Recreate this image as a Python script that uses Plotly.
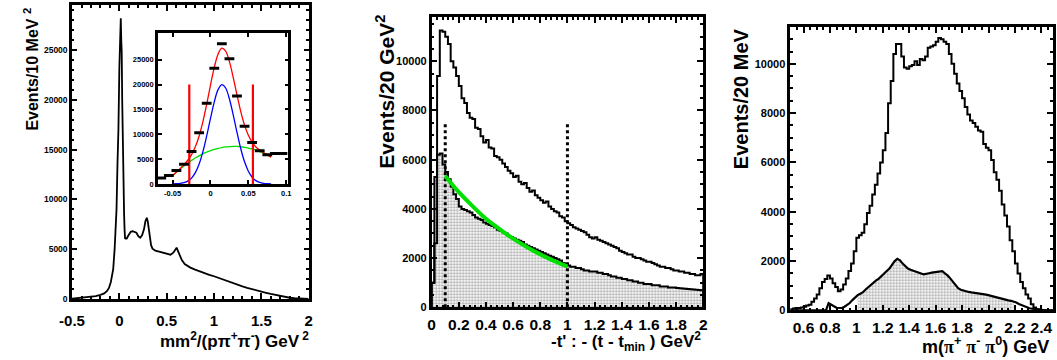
import plotly.graph_objects as go

W, H = 1057, 360
FONT = "Liberation Sans"

# ---------------- Panel 1: missing mass squared ----------------
mm2_x = [-0.5, -0.45, -0.4, -0.35, -0.3, -0.25, -0.2, -0.16, -0.13, -0.11, -0.09, -0.075, -0.065,
         -0.05, -0.04, -0.03, -0.02, -0.01, 0.0, 0.01, 0.015, 0.02, 0.025, 0.03, 0.035, 0.04, 0.045,
         0.05, 0.055, 0.06, 0.07, 0.08, 0.09, 0.1, 0.12, 0.14, 0.16, 0.18, 0.2, 0.22, 0.24, 0.26,
         0.275, 0.29, 0.3, 0.31, 0.32, 0.335, 0.35, 0.38, 0.42, 0.46, 0.5, 0.54, 0.57, 0.59, 0.605,
         0.62, 0.64, 0.66, 0.69, 0.72, 0.75, 0.8, 0.85, 0.9, 0.95, 1.0, 1.05, 1.1, 1.15, 1.2, 1.25,
         1.3, 1.35, 1.4, 1.45, 1.5, 1.55, 1.6, 1.65, 1.7, 1.75, 1.8, 1.85, 1.9, 1.95, 2.0]
mm2_y = [20, 60, 100, 150, 200, 280, 400, 550, 800, 1100, 1700, 2400, 3000,
         5000, 6500, 9000, 13500, 17000, 23300, 25500, 28200, 26000, 24800, 20000, 16000, 12000, 10000,
         8500, 7000, 6100, 6050, 6100, 6300, 6500, 6750, 6800, 6750, 6650, 6300, 6150, 6400, 7000,
         7800, 8150, 7800, 7000, 6000, 5400, 5050, 4850, 4750, 4650, 4550, 4450, 4650, 5000, 5150,
         4800, 4300, 3900, 3500, 3300, 3150, 2950, 2750, 2600, 2420, 2280, 2100, 1920, 1750, 1580, 1420,
         1260, 1120, 980, 860, 740, 620, 500, 390, 280, 190, 120, 70, 35, 15, 5]
mm2_tickvals = [-0.5, 0, 0.5, 1, 1.5, 2]
mm2_ticktext = ["-0.5", "0", "0.5", "1", "1.5", "2"]

# inset: binned data (bin centres) and fitted curves
inset_bin_x = [-0.065, -0.055, -0.045, -0.035, -0.025, -0.015, -0.005, 0.005, 0.015, 0.025,
               0.035, 0.045, 0.055, 0.065, 0.075, 0.085, 0.095]
inset_bin_y = [1200, 1700, 2700, 3950, 6500, 10300, 16250, 23300, 28200, 25200,
               17700, 11600, 8350, 6650, 5850, 6100, 6100]
fit_x = [-0.05, -0.045, -0.04, -0.035, -0.03, -0.025, -0.02, -0.015, -0.01, -0.005, 0.0,
         0.005, 0.01, 0.015, 0.02, 0.025, 0.03, 0.035, 0.04, 0.045, 0.05, 0.055, 0.06,
         0.065, 0.07, 0.075, 0.08]
fit_total = [1660, 2390, 3110, 3870, 4760, 5900, 7470, 9650, 12530, 16050, 19880,
             23460, 26130, 27320, 26750, 24620, 21450, 17900, 14560, 11810, 9780, 8370, 7440,
             6800, 6300, 5850, 5400]
fit_signal = [12, 36, 97, 242, 557, 1171, 2260, 4000, 6490, 9670, 13190,
              16520, 18980, 20000, 19310, 17100, 13900, 10360, 7080, 4440, 2550, 1340, 650,
              290, 117, 44, 15]
fit_background = [1645, 2352, 3013, 3630, 4201, 4728, 5209, 5646, 6037, 6384, 6685,
                  6942, 7153, 7320, 7441, 7518, 7549, 7536, 7477, 7374, 7225, 7032, 6793,
                  6510, 6181, 5808, 5389]
cut_lines_x = [-0.028, 0.056]
cut_lines_top = 20000
inset_tickvals = [-0.05, 0, 0.05, 0.1]
inset_ticktext = ["-0.05", "0", "0.05", "0.1"]
inset_ytickvals = [0, 5000, 10000, 15000, 20000, 25000]

# ---------------- Panel 2: -t' ----------------
t_lo, t_bw = 0.0, 0.02
t_all = [1000, 2600, 9400, 11250, 11200, 11000, 10700, 10000, 9750, 9400,
         9000, 8500, 8300, 7900, 7700, 7650, 7300, 7250, 6950, 6700,
         6800, 6500, 6450, 6150, 6100, 6000, 5850, 5700, 5550, 5450,
         5300, 5350, 5100, 5000, 5050, 4850, 4700, 4750, 4550, 4450,
         4350, 4250, 4300, 4100, 4000, 3900, 3850, 3700, 3650, 3500,
         3420, 3350, 3250, 3200, 3150, 3100, 3050, 2950, 2850, 2800,
         2850, 2750, 2700, 2650, 2600, 2550, 2500, 2450, 2400, 2300,
         2250, 2200, 2150, 2150, 2050, 2000, 2000, 1950, 1900, 1850,
         1850, 1800, 1750, 1700, 1650, 1650, 1600, 1600, 1550, 1500,
         1500, 1450, 1450, 1400, 1400, 1350, 1350, 1300, 1300, 1350]
t_sel = [1000, 5300, 6200, 6250, 5800, 5500, 5200, 4900, 4600, 4400,
         4100, 4000, 3950, 3900, 3850, 3750, 3650, 3600, 3550, 3450,
         3400, 3350, 3300, 3250, 3150, 3100, 3050, 3000, 2900, 2850,
         2800, 2750, 2700, 2650, 2550, 2500, 2450, 2400, 2350, 2300,
         2250, 2200, 2150, 2100, 2050, 2000, 1950, 1900, 1800, 1750,
         1700, 1650, 1650, 1600, 1600, 1550, 1500, 1500, 1450, 1450,
         1450, 1400, 1400, 1350, 1350, 1300, 1250, 1250, 1200, 1200,
         1150, 1150, 1100, 1100, 1050, 1050, 1000, 1000, 950, 950,
         950, 900, 900, 900, 850, 850, 850, 800, 800, 800,
         780, 770, 760, 750, 740, 730, 720, 710, 700, 690]
t_fit_x = [0.1, 0.2, 0.3, 0.4, 0.5, 0.6, 0.7, 0.8, 0.9, 1.0]
t_fit_y = [5340, 4680, 4120, 3600, 3180, 2790, 2450, 2150, 1890, 1660]
t_cuts = [0.1, 1.0]
t_cut_top = 7500

# ---------------- Panel 3: m(pi+ pi- pi0) ----------------
m_lo, m_bw = 0.5, 0.02
m_all = [50, 80, 100, 100, 120, 150, 200, 230, 350, 480,
         650, 900, 1150, 1280, 1420, 1300, 1100, 950, 780, 850,
         1050, 1300, 1600, 1900, 2400, 2950, 3050, 3150, 3500, 3950,
         4250, 4700, 5100, 5550, 6000, 6500, 7200, 8400, 9300, 10400,
         10800, 10800, 10300, 9850, 9800, 9900, 9950, 10100, 9950, 10200,
         10150, 10300, 10650, 10700, 10750, 10900, 11050, 11000, 10900, 10800,
         10400, 10000, 9600, 9200, 8900, 8600, 8250, 7950, 7700, 7600,
         7450, 7300, 7250, 6750, 6600, 6500, 6100, 5600, 5300, 4850,
         4300, 3850, 3400, 2850, 2400, 1900, 1500, 1150, 900, 650,
         480, 250, 120, 50, 20, 10, 0, 0, 0, 0]
m_sel = [0, 0, 0, 0, 0, 0, 0, 0, 0, 0,
         0, 0, 0, 0, 300, 250, 170, 110, 90, 100,
         150, 220, 300, 420, 530, 620, 680, 740, 850, 950,
         1050, 1150, 1220, 1290, 1380, 1500, 1600, 1700, 1850, 2000,
         2090, 2030, 1900, 1780, 1700, 1650, 1620, 1580, 1550, 1500,
         1460, 1470, 1510, 1530, 1550, 1560, 1580, 1590, 1500, 1420,
         1300, 1150, 1000, 900, 840, 800, 770, 750, 730, 720,
         700, 690, 670, 650, 630, 600, 570, 530, 500, 480,
         450, 430, 410, 390, 360, 320, 260, 210, 160, 120,
         90, 70, 50, 30, 15, 0, 0, 0, 0, 0]
m_shade_range = [1.0, 2.2]


def steps(lo, bw, vals):
    xs, ys = [lo], [0]
    for i, v in enumerate(vals):
        xs.append(lo + i * bw)
        ys.append(v)
    xs.append(lo + len(vals) * bw)
    ys.append(vals[-1])
    xs.append(lo + len(vals) * bw)
    ys.append(0)
    return xs, ys


def px(x):
    return x / W


def py(y):
    return 1 - y / H


fig = go.Figure()
BLK = "black"
PATTERN = dict(shape=".", fgcolor="#555555", bgcolor="white", size=3, solidity=0.45)

# Panel 1 main
fig.add_trace(go.Scatter(x=mm2_x, y=mm2_y, mode="lines", line=dict(color=BLK, width=1.8),
                         xaxis="x", yaxis="y", showlegend=False))

# inset
fig.add_trace(go.Scatter(x=fit_x, y=fit_background, mode="lines", line=dict(color="#00e000", width=1.3, shape="spline"),
                         xaxis="x4", yaxis="y4", showlegend=False))
fig.add_trace(go.Scatter(x=fit_x, y=fit_signal, mode="lines", line=dict(color="#0000ff", width=1.3, shape="spline"),
                         xaxis="x4", yaxis="y4", showlegend=False))
fig.add_trace(go.Scatter(x=fit_x, y=fit_total, mode="lines", line=dict(color="#ff0000", width=1.3, shape="spline"),
                         xaxis="x4", yaxis="y4", showlegend=False))
for cx in cut_lines_x:
    fig.add_trace(go.Scatter(x=[cx, cx], y=[0, cut_lines_top], mode="lines", line=dict(color="#ff0000", width=2.2),
                             xaxis="x4", yaxis="y4", showlegend=False))
fig.add_trace(go.Scatter(x=inset_bin_x, y=inset_bin_y, mode="markers",
                         marker=dict(symbol="line-ew", size=7, line=dict(width=3, color=BLK)),
                         xaxis="x4", yaxis="y4", showlegend=False))

# Panel 2
sx, sy = steps(t_lo, t_bw, t_sel)
fig.add_trace(go.Scatter(x=sx, y=sy, mode="lines", line=dict(color=BLK, width=2, shape="hv"),
                         fill="tozeroy", fillcolor="rgba(0,0,0,0)", fillpattern=PATTERN,
                         xaxis="x2", yaxis="y2", showlegend=False))
ax_, ay_ = steps(t_lo, t_bw, t_all)
fig.add_trace(go.Scatter(x=ax_, y=ay_, mode="lines", line=dict(color=BLK, width=2, shape="hv"),
                         xaxis="x2", yaxis="y2", showlegend=False))
for cx in t_cuts:
    fig.add_trace(go.Scatter(x=[cx, cx], y=[0, t_cut_top], mode="lines", line=dict(color=BLK, width=3, dash="dot"),
                             xaxis="x2", yaxis="y2", showlegend=False))
fig.add_trace(go.Scatter(x=t_fit_x, y=t_fit_y, mode="lines", line=dict(color="#00e000", width=4, shape="spline"),
                         xaxis="x2", yaxis="y2", showlegend=False))

# Panel 3
m_centres = [m_lo + (i + 0.5) * m_bw for i in range(len(m_sel))]
shade_x = [c for c in m_centres if m_shade_range[0] <= c <= m_shade_range[1]]
shade_y = [v for c, v in zip(m_centres, m_sel) if m_shade_range[0] <= c <= m_shade_range[1]]
fig.add_trace(go.Scatter(x=shade_x, y=shade_y, mode="lines", line=dict(width=0, color="rgba(0,0,0,0)"),
                         fill="tozeroy", fillcolor="rgba(0,0,0,0)", fillpattern=PATTERN,
                         xaxis="x3", yaxis="y3", showlegend=False))
fig.add_trace(go.Scatter(x=m_centres, y=m_sel, mode="lines", line=dict(color=BLK, width=2.2),
                         xaxis="x3", yaxis="y3", showlegend=False))
mx, my = steps(m_lo, m_bw, m_all)
fig.add_trace(go.Scatter(x=mx, y=my, mode="lines", line=dict(color=BLK, width=2, shape="hv"),
                         xaxis="x3", yaxis="y3", showlegend=False))


def axis(domain, rng, dtick=None, minor=None, size=12, ticklen=6, **kw):
    d = dict(domain=domain, range=rng, showline=True, linewidth=2.5, linecolor=BLK, mirror="allticks",
             ticks="inside", ticklen=ticklen, tickwidth=2, tickcolor=BLK, showgrid=False, zeroline=False,
             tickformat="d", separatethousands=False,
             tickfont=dict(family=FONT, size=size, color=BLK, weight="bold"), fixedrange=True)
    if dtick is not None:
        d["dtick"] = dtick
        d["tick0"] = 0
    if minor is not None:
        d["minor"] = dict(dtick=minor, tick0=0, ticks="inside", ticklen=ticklen * 0.5, tickwidth=1.5, tickcolor=BLK,
                          showgrid=False)
    d.update(kw)
    return d


fig.update_layout(
    width=W, height=H, margin=dict(l=0, r=0, t=0, b=0),
    paper_bgcolor="white", plot_bgcolor="rgba(0,0,0,0)",
    xaxis=axis([px(60), px(300.5)], [-0.5, 2.0], minor=0.1, size=15, anchor="y",
               tickmode="array", tickvals=mm2_tickvals, ticktext=mm2_ticktext, ticklabelstandoff=6),
    yaxis=axis([py(304), py(5)], [0, 29550], dtick=5000, minor=1000, size=8.5, ticklen=5, anchor="x"),
    xaxis2=axis([px(425.5), px(701.5)], [0, 2.0], dtick=0.2, minor=0.04, size=15.5, anchor="y2",
                tickformat="", ticklabelstandoff=1),
    yaxis2=axis([py(312.5), py(17.3)], [0, 11800], dtick=2000, minor=500, size=11, anchor="x2"),
    xaxis3=axis([px(790), 1.0], [0.5, 2.488], dtick=0.2, minor=0.05, size=15.5, anchor="y3",
                tickformat="", ticklabelstandoff=1),
    yaxis3=axis([py(315.7), py(27.3)], [0, 11500], dtick=2000, minor=500, size=11, anchor="x3"),
    xaxis4=axis([px(147.3), px(280)], [-0.0694, 0.103], size=7.5, ticklen=4, anchor="y4",
                tickmode="array", tickvals=inset_tickvals, ticktext=inset_ticktext),
    yaxis4=axis([py(187), py(34)], [0, 30300], size=7.5, ticklen=4, anchor="x4",
                tickmode="array", tickvals=inset_ytickvals),
)

ann_font = dict(family=FONT, color=BLK, weight="bold")
SERIF_PI = "<span style=\"font-family:'Liberation Serif'\">π</span>"
annotations = [
    dict(text="Events/10 MeV <sup>2</sup>", x=px(18.5), y=py(6), xanchor="center", yanchor="top",
         textangle=-90, font=dict(size=16, **ann_font)),
    dict(text="mm<sup>2</sup>/(pπ<sup>+</sup>π<sup>-</sup>) GeV<sup> 2</sup>", x=px(303), y=py(346),
         xanchor="right", yanchor="middle", font=dict(size=17, **ann_font)),
    dict(text="Events/20 GeV<sup>2</sup>", x=px(378), y=py(13), xanchor="center", yanchor="top",
         textangle=-90, font=dict(size=21, **ann_font)),
    dict(text="-t' : - (t - t<sub>min</sub> ) GeV<sup>2</sup>", x=px(701), y=py(347),
         xanchor="right", yanchor="middle", font=dict(size=17, **ann_font)),
    dict(text="Events/20 MeV", x=px(740), y=py(27), xanchor="center", yanchor="top",
         textangle=-90, font=dict(size=20, **ann_font)),
    dict(text="m(" + SERIF_PI + "<sup>+</sup> " + SERIF_PI + "<sup>-</sup> " + SERIF_PI
         + "<sup>0</sup>) GeV", x=px(1055), y=py(351),
         xanchor="right", yanchor="middle", font=dict(size=18, **ann_font)),
]
for a in annotations:
    a.update(xref="paper", yref="paper", showarrow=False)
fig.update_layout(annotations=annotations)

fig.write_html("out.html", config={"displayModeBar": False},
               post_script="document.body.style.margin='0';")
